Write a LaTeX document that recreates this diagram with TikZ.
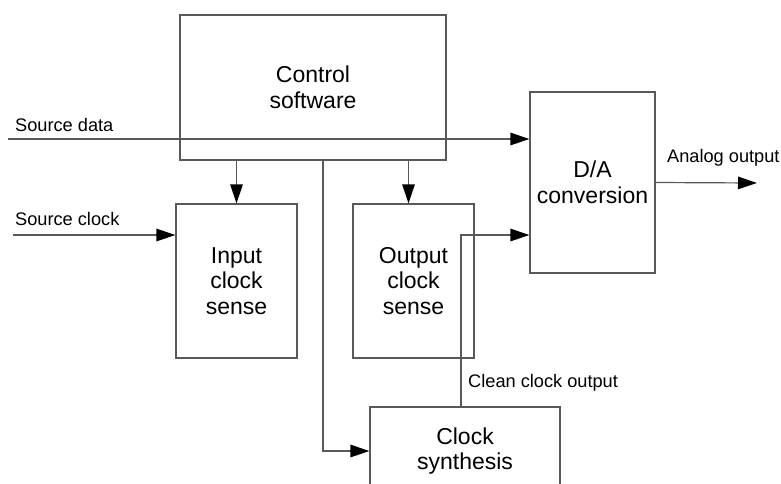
\documentclass[tikz,border=0pt]{standalone}
\usepackage{fontspec}
\setmainfont{Liberation Sans}
\usetikzlibrary{arrows.meta}
\begin{document}
\begin{tikzpicture}[x=1pt,y=-1pt,
  box/.style={draw=black!65,line width=1.2pt,align=center,font=\fontsize{23}{25.5}\selectfont},
  lbl/.style={anchor=west,inner sep=0pt,font=\fontsize{18.2}{20}\selectfont},
  arr/.style={draw=black!65,line width=1.2pt,-{Triangle[length=19pt,width=12.5pt,color=black]}},
  wire/.style={draw=black!65,line width=1.2pt}]
\useasboundingbox (0,0) rectangle (781,483);
\clip (0,0) rectangle (781,483);

% Blocks
\node[box,minimum width=266pt,minimum height=145pt] (ctrl) at (313,87.5) {Control\\software};
\node[box,minimum width=125pt,minimum height=181pt] (dac) at (592.5,182.5) {D/A\\conversion};
\node[box,minimum width=121pt,minimum height=154pt] (inp) at (236.5,281) {Input\\clock\\sense};
\node[box,minimum width=121pt,minimum height=154pt] (outp) at (413.5,281) {Output\\clock\\sense};
\node[box,minimum width=190pt,minimum height=88pt] (synth) at (465,451) {Clock\\synthesis};

% Free ends of the signal lines
\coordinate (srcd) at (8,139);
\coordinate (srcc) at (13,235);
\coordinate (aout) at (757,183);

% Labels
\node[lbl] (lsrcd) at (15,125) {Source data};
\node[lbl] (lsrcc) at (15,219) {Source clock};
\node[lbl] (lclean) at (468,383) {Clean clock output};
\node[lbl] (laout) at (667,158) {Analog output};

% Connectors
\draw[arr] (srcd) -- (dac.west |- srcd);
\draw[arr] (srcc) -- (inp.west |- srcc);
\draw[arr] (ctrl.south -| inp.north) -- (inp.north);
\draw[arr] ([xshift=-5pt]ctrl.south -| outp.north) -- ([xshift=-5pt]outp.north);
\draw[arr] ([xshift=10pt]ctrl.south) |- (synth.west);
\draw[arr] ([xshift=-4pt]synth.north) |- ([yshift=-52.5pt]dac.west);
\draw[arr] (dac.east) -- (aout);

\end{tikzpicture}
\end{document}
